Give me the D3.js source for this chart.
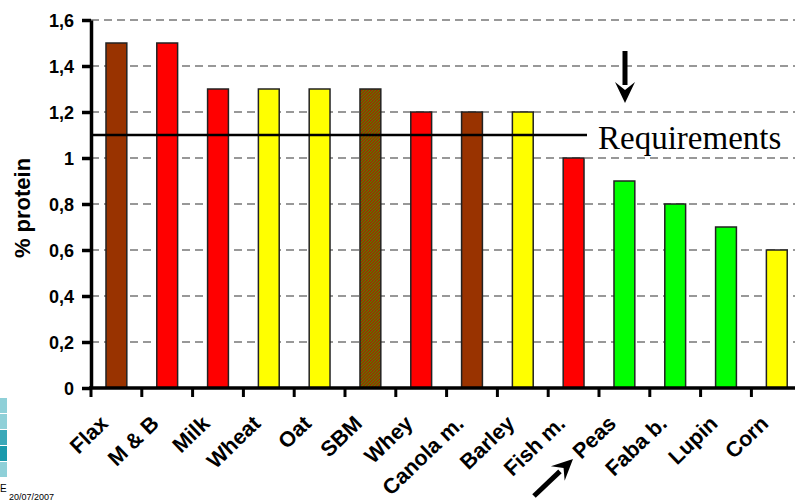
<!DOCTYPE html>
<html><head><meta charset="utf-8">
<script src="https://cdn.jsdelivr.net/npm/d3@7"></script>
<style>body{margin:0;background:#fff}svg{display:block}</style>
</head><body>
<script>
const categories = ["Flax","M & B","Milk","Wheat","Oat","SBM","Whey","Canola m.","Barley","Fish m.","Peas","Faba b.","Lupin","Corn"];
const values = [1.5,1.5,1.3,1.3,1.3,1.3,1.2,1.2,1.2,1.0,0.9,0.8,0.7,0.6];
const colorKeys = ["brown","red","red","yellow","yellow","sbm","red","brown","yellow","red","green","green","green","yellow"];
const yTicks = [0,0.2,0.4,0.6,0.8,1,1.2,1.4,1.6];
const requirement = 1.1;
const palette = {brown:"#993300", red:"#FF0000", yellow:"#FFFF00", green:"#00FF00", sbm:"url(#sbm)"};

const W=795,H=502;
const svg=d3.select("body").append("svg").attr("width",W).attr("height",H);
const defs=svg.append("defs");
const pat=defs.append("pattern").attr("id","sbm").attr("width",3).attr("height",3).attr("patternUnits","userSpaceOnUse");
pat.append("rect").attr("width",3).attr("height",3).attr("fill","#993300");
pat.append("rect").attr("x",0).attr("y",0).attr("width",1).attr("height",1).attr("fill","#4a8a00");
pat.append("rect").attr("x",2).attr("y",1).attr("width",1).attr("height",1).attr("fill","#4a8a00");
pat.append("rect").attr("x",1).attr("y",2).attr("width",1).attr("height",1).attr("fill","#4a8a00");

const x0=91, y0=388, yTop=20;
const x=d3.scaleBand().domain(categories).range([x0,x0+14*50.8]).paddingInner(0.59).paddingOuter(0.295);
const y=d3.scaleLinear().domain([0,1.6]).range([y0,yTop]);

// grid
svg.append("g").selectAll("line").data(yTicks.filter(d=>d>0)).join("line")
 .attr("x1",x0).attr("x2",W).attr("y1",d=>y(d)).attr("y2",d=>y(d))
 .attr("stroke","#333").attr("stroke-width",1.2).attr("stroke-dasharray","8,5");

// bars
svg.append("g").selectAll("rect").data(categories).join("rect")
 .attr("x",d=>x(d)).attr("width",x.bandwidth())
 .attr("y",(d,i)=>y(values[i])).attr("height",(d,i)=>y0-y(values[i]))
 .attr("fill",(d,i)=>palette[colorKeys[i]])
 .attr("stroke","#222").attr("stroke-width",1.5);

// requirement line
svg.append("line").attr("x1",x0).attr("x2",587).attr("y1",y(requirement)).attr("y2",y(requirement))
 .attr("stroke","#000").attr("stroke-width",2.5);
svg.append("text").attr("x",598).attr("y",y(requirement)+13.5)
 .attr("font-family","Liberation Serif, Times New Roman, serif").attr("font-size",33).text("Requirements");

// y axis
const ya=svg.append("g").attr("transform",`translate(${x0},0)`)
 .call(d3.axisLeft(y).tickValues(yTicks).tickSize(9).tickSizeOuter(0).tickFormat(d=>d3.format(".1f")(d).replace(".",",").replace(/^1,0$/,"1").replace(/^0,0$/,"0")));
ya.select(".domain").attr("stroke-width",3.5);
ya.selectAll(".tick line").attr("stroke-width",3.5);
ya.selectAll("text").attr("font-family","Liberation Sans, Arial, sans-serif").attr("font-weight","bold").attr("font-size",18).attr("fill","#000").attr("x",-17).attr("dy","0.36em");

// x axis
const xa=svg.append("g").attr("transform",`translate(0,${y0})`);
xa.append("line").attr("x1",x0-2).attr("x2",x0+14*50.8).attr("stroke","#000").attr("stroke-width",3.5);
const step=x.step();
xa.selectAll("line.tk").data(d3.range(15)).join("line").attr("class","tk")
 .attr("x1",i=>x0+i*step).attr("x2",i=>x0+i*step).attr("y1",0).attr("y2",9).attr("stroke","#000").attr("stroke-width",3);
xa.selectAll("text").data(categories).join("text")
 .attr("transform",d=>`translate(${x(d)+x.bandwidth()/2-7},${37}) rotate(-44)`)
 .attr("text-anchor","end")
 .attr("font-family","Liberation Sans, Arial, sans-serif").attr("font-weight","bold").attr("font-size",21.5).text(d=>d);

// y label
svg.append("text").attr("transform","translate(30,208) rotate(-90)").attr("text-anchor","middle")
 .attr("font-family","Liberation Sans, Arial, sans-serif").attr("font-weight","bold").attr("font-size",22).text("% protein");

// arrows
function arrow(x1,y1,x2,y2){
  const a=Math.atan2(y2-y1,x2-x1), L=18, hw=10;
  const bx=x2-L*Math.cos(a), by=y2-L*Math.sin(a);
  svg.append("line").attr("x1",x1).attr("y1",y1).attr("x2",bx).attr("y2",by).attr("stroke","#000").attr("stroke-width",5);
  const px=-Math.sin(a), py=Math.cos(a);
  const nx=x2-(L-5)*Math.cos(a), ny=y2-(L-5)*Math.sin(a);
  svg.append("path").attr("d",`M${x2},${y2}L${bx+px*hw-Math.cos(a)*3},${by+py*hw-Math.sin(a)*3}L${nx},${ny}L${bx-px*hw-Math.cos(a)*3},${by-py*hw-Math.sin(a)*3}Z`).attr("fill","#000");
}
arrow(625,51,625,103);
arrow(534,496,573,459);

// left decoration
const deco=svg.append("g");
[["#8fd0d8",398],["#8fd0d8",414],["#3aa8b8",430],["#1a9aac",446],["#8fd0d8",462]].forEach(([c,yy])=>{
  deco.append("rect").attr("x",0).attr("y",yy).attr("width",7).attr("height",15).attr("fill",c);
});
svg.append("text").attr("x",0).attr("y",492).attr("font-family","Liberation Sans, Arial, sans-serif").attr("font-size",10).text("E");
svg.append("text").attr("x",9).attr("y",500).attr("font-family","Liberation Sans, Arial, sans-serif").attr("font-size",9).text("20/07/2007");
</script>
</body></html>
